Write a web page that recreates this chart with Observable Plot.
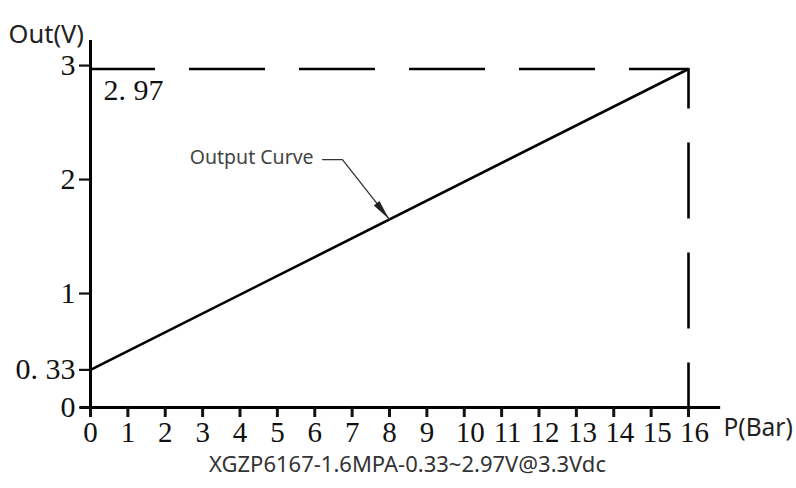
<!DOCTYPE html>
<html>
<head>
<meta charset="utf-8">
<script src="https://cdn.jsdelivr.net/npm/d3@7"></script>
<script src="https://cdn.jsdelivr.net/npm/@observablehq/plot@0.6"></script>
<style>
  html, body { margin: 0; padding: 0; background: #fff; }
  #chart { width: 796px; height: 488px; }
</style>
</head>
<body>
<div id="chart"></div>
<script>
// ---- data ----
const pressureBar = [0, 16];            // P(Bar)
const outputVolt = [0.33, 2.97];        // Out(V)
const xTicks = [0,1,2,3,4,5,6,7,8,9,10,11,12,13,14,15,16];
const yTicks = [0, 0.33, 1, 2, 3];
const yTickLabels = ["0", "0. 33", "1", "2", "3"];
const fullScaleP = 16;
const fullScaleV = 2.97;
const fullScaleLabel = "2. 97";
const calloutText = "Output Curve";
const calloutX = [6.21, 6.74, 8.0];     // leader: start, elbow, tip (data units)
const calloutY = [2.175, 2.175, 1.65];
const xAxisExtent = [-0.27, 16.86];
const yAxisExtent = [0, 3.22];
const xLabel = "P(Bar)";
const yLabel = "Out(V)";
const title = "XGZP6167-1.6MPA-0.33~2.97V@3.3Vdc";

const curve = pressureBar.map((p, i) => ({p, v: outputVolt[i]}));
const callout = calloutX.map((x, i) => ({x, y: calloutY[i]}));
const xTicksOne = xTicks.filter(d => d < 10);
const xTicksTwo = xTicks.filter(d => d >= 10);

const serif = "'Liberation Serif', 'Times New Roman', serif";
const sans = "'Noto Sans', 'Open Sans', sans-serif";

const arrowHead = (index, scales) => {
  const x1 = scales.x(calloutX[1]), y1 = scales.y(calloutY[1]);
  const x2 = scales.x(calloutX[2]), y2 = scales.y(calloutY[2]);
  const dx = x2 - x1, dy = y2 - y1, len = Math.hypot(dx, dy);
  const ux = dx / len, uy = dy / len, nx = -uy, ny = ux;
  const L = 20, W = 3.6;
  const bx = x2 - L * ux, by = y2 - L * uy;
  const d = `M${x2},${y2}L${bx + W * nx},${by + W * ny}L${bx - W * nx},${by - W * ny}Z`;
  return d3.create("svg:path").attr("d", d).attr("fill", "#222").node();
};

const chart = Plot.plot({
  width: 796,
  height: 488,
  marginLeft: 90,
  marginRight: 108,
  marginTop: 40,
  marginBottom: 81,
  style: {background: "#fff", fontFamily: serif, color: "#111"},
  x: {domain: [0, 16]},
  y: {domain: yAxisExtent},
  marks: [
    // dashed full-scale guides
    Plot.ruleY([fullScaleV], {x1: 0, x2: fullScaleP, stroke: "#000", strokeWidth: 2.6,
      strokeDasharray: "76,34", strokeDashoffset: 11}),
    Plot.ruleX([fullScaleP], {y1: fullScaleV, y2: 0, stroke: "#000", strokeWidth: 2.6,
      strokeDasharray: "76,34", strokeDashoffset: 36}),
    // output curve
    Plot.line(curve, {x: "p", y: "v", stroke: "#000", strokeWidth: 2.6}),
    // axes lines
    Plot.ruleY([0], {x1: xAxisExtent[0], x2: xAxisExtent[1], stroke: "#000", strokeWidth: 3}),
    Plot.ruleX([0], {y1: yAxisExtent[0], y2: yAxisExtent[1], stroke: "#000", strokeWidth: 3}),
    // x ticks (no text)
    Plot.axisX({ticks: xTicks, tickSize: 10, strokeWidth: 3, tickFormat: () => ""}),
    // x tick labels
    Plot.axisX({ticks: xTicksOne, tickSize: 0, tickPadding: 14,
      fontSize: 29, fontFamily: serif, tickFormat: d => String(d)}),
    Plot.axisX({ticks: xTicksTwo, tickSize: 0, tickPadding: 14, dx: 6,
      fontSize: 29, fontFamily: serif, tickFormat: d => String(d)}),
    Plot.axisY({ticks: yTicks, tickSize: 11, tickPadding: 4, strokeWidth: 2.2,
      fontSize: 30, fontFamily: serif, tickFormat: d => yTickLabels[yTicks.indexOf(d)]}),
    // full scale label
    Plot.text([fullScaleLabel], {x: 0, y: fullScaleV, text: d => d, textAnchor: "start",
      dx: 13, dy: 21, fontSize: 30, fontFamily: serif, fill: "#111"}),
    // callout
    Plot.line(callout, {x: "x", y: "y", stroke: "#333", strokeWidth: 1.3}),
    arrowHead,
    Plot.text([calloutText], {x: calloutX[0], y: calloutY[0], text: d => d, textAnchor: "end",
      dx: -9, dy: -2, fontSize: 19.5, fontFamily: sans, fill: "#444"}),
    // axis titles
    Plot.text([yLabel], {frameAnchor: "top-left", text: d => d, textAnchor: "start",
      dx: -82, dy: -16, fontSize: 25.5, fontFamily: sans, fill: "#222"}),
    Plot.text([xLabel], {frameAnchor: "bottom-right", text: d => d, textAnchor: "start",
      dx: 35, dy: 28, fontSize: 24.5, fontFamily: sans, fill: "#222"}),
    // caption
    Plot.text([title], {frameAnchor: "bottom", text: d => d,
      dx: 18, dy: 64, fontSize: 22, fontFamily: sans, fill: "#333"})
  ]
});
document.getElementById("chart").appendChild(chart);
</script>
</body>
</html>
